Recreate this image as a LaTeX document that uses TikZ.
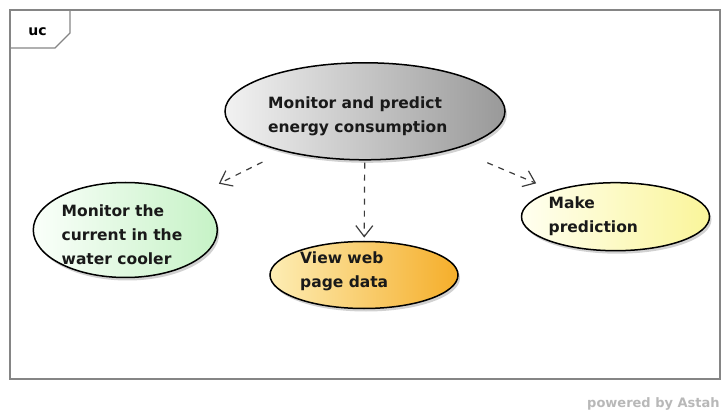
\documentclass[tikz,border=0pt]{standalone}
\usepackage{fontspec}
\setmainfont{DejaVu Sans}
\usetikzlibrary{shapes.geometric,shadows,arrows.meta}

\definecolor{framegray}{HTML}{858585}
\definecolor{grayL}{HTML}{F2F2F2}
\definecolor{grayR}{HTML}{999999}
\definecolor{greenL}{HTML}{FAFFFA}
\definecolor{greenR}{HTML}{C6F2C6}
\definecolor{orangeL}{HTML}{FDEDB4}
\definecolor{orangeR}{HTML}{F5AE2A}
\definecolor{yellowL}{HTML}{FFFFF0}
\definecolor{yellowR}{HTML}{FAF59A}
\definecolor{depgray}{HTML}{3C3C3C}
\definecolor{footgray}{HTML}{B8B8B8}

\begin{document}
\begin{tikzpicture}[x=1pt,y=-1pt,
  usecase/.style={ellipse, draw=black, line width=1.5pt, inner sep=0pt,
    drop shadow={shadow xshift=2pt, shadow yshift=-3pt, opacity=0.18, fill=black}},
  uclabel/.style={anchor=north west, inner sep=0pt, align=left, text=black!90,
    font=\bfseries\fontsize{15.5}{24}\selectfont},
  dep/.style={draw=depgray, line width=1.2pt, dash pattern=on 6pt off 6pt,
    -{Straight Barb[length=11pt,width=17pt]}},
  frameline/.style={draw=framegray, line width=1.2pt},
]
\useasboundingbox (0,0) rectangle (722,411);

% diagram frame with its "uc" tab
\draw[frameline] (10,10) rectangle (720,379);
\draw[frameline] (70,10) -- (70,33) -- (55,48) -- (10,48);
\node[font=\bfseries\fontsize{14}{16}\selectfont, inner sep=0pt] (frametag) at (37.5,31.5) {uc};

% use cases
\node[usecase, minimum width=280pt, minimum height=97pt,
      left color=grayL, right color=grayR] (monitorpredict) at (365,111.3) {};
\node[usecase, minimum width=184pt, minimum height=95pt,
      left color=greenL, right color=greenR] (monitorcurrent) at (125.3,230) {};
\node[usecase, minimum width=188pt, minimum height=67pt,
      left color=orangeL, right color=orangeR] (viewweb) at (364,275) {};
\node[usecase, minimum width=188pt, minimum height=68pt,
      left color=yellowL, right color=yellowR] (makeprediction) at (615.5,216.7) {};

% use case names
\node[uclabel] (monitorpredicttext) at (268,97) {Monitor and predict\\energy consumption};
\node[uclabel] (monitorcurrenttext) at (61.5,205) {Monitor the\\current in the\\water cooler};
\node[uclabel] (viewwebtext) at (300,251.5) {View web\\page data};
\node[uclabel] (makepredictiontext) at (548.5,196.5) {Make\\prediction};

% dependencies
\draw[dep, shorten <=23.8pt, shorten >=29.4pt] (monitorpredict) -- (monitorcurrent);
\draw[dep, shorten <=2pt, shorten >=3.2pt] (monitorpredict) -- (viewweb);
\draw[dep, shorten <=35pt, shorten >=18.5pt] (monitorpredict) -- (makeprediction);

% footer mark
\node[anchor=west, inner sep=0pt, text=footgray,
      font=\bfseries\fontsize{13}{15}\selectfont] (astahmark) at (587,404) {powered by Astah};
\end{tikzpicture}
\end{document}
